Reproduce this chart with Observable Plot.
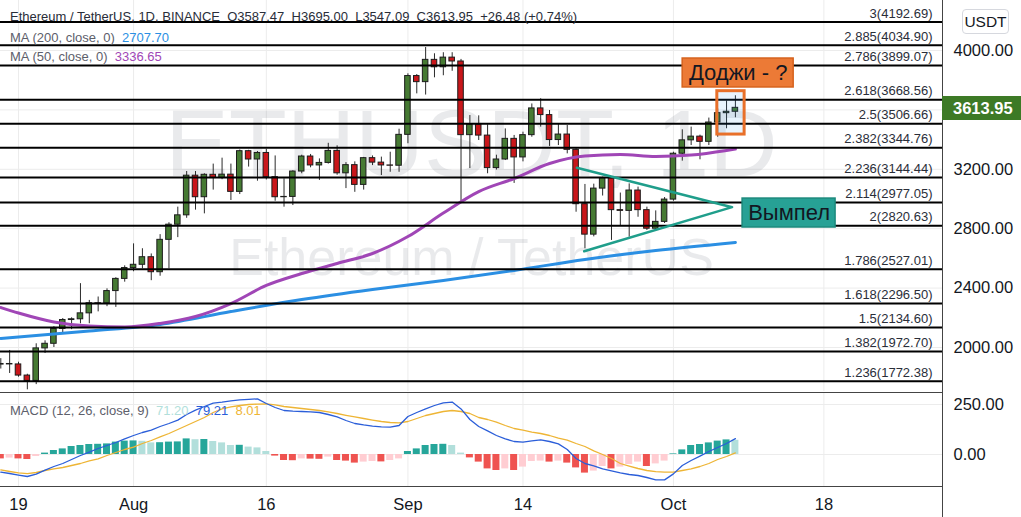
<!DOCTYPE html>
<html lang="ru">
<head>
<meta charset="utf-8">
<script src="https://cdn.jsdelivr.net/npm/d3@7"></script>
<script src="https://cdn.jsdelivr.net/npm/@observablehq/plot@0.6"></script>
<style>
html,body{margin:0;padding:0;background:#fff;}
#root{position:relative;width:1021px;height:517px;overflow:hidden;background:#fff;font-family:"Liberation Sans",Arial,sans-serif;color:#131722;}
#root svg{position:absolute;left:0;}
.ov{position:absolute;white-space:nowrap;}
</style>
</head>
<body>
<div id="root"></div>
<script>
// ---------------- DATA ----------------
const candleRows = [
 ["2021-07-17",1885,1925,1855,1889],
 ["2021-07-18",1889,1980,1825,1886],
 ["2021-07-19",1886,1901,1800,1811],
 ["2021-07-20",1811,1820,1715,1775],
 ["2021-07-21",1775,2025,1750,1994],
 ["2021-07-22",1994,2045,1960,2025],
 ["2021-07-23",2025,2140,2000,2125],
 ["2021-07-24",2125,2195,2100,2185],
 ["2021-07-25",2185,2200,2120,2190],
 ["2021-07-26",2190,2430,2160,2230],
 ["2021-07-27",2230,2317,2160,2298],
 ["2021-07-28",2298,2340,2240,2297],
 ["2021-07-29",2297,2395,2275,2380],
 ["2021-07-30",2380,2470,2270,2462],
 ["2021-07-31",2462,2550,2440,2535],
 ["2021-08-01",2535,2698,2510,2557],
 ["2021-08-02",2557,2665,2530,2608],
 ["2021-08-03",2608,2630,2450,2507],
 ["2021-08-04",2507,2760,2480,2725],
 ["2021-08-05",2725,2840,2530,2827],
 ["2021-08-06",2827,2945,2740,2890],
 ["2021-08-07",2890,3185,2870,3157],
 ["2021-08-08",3157,3185,2925,3012],
 ["2021-08-09",3012,3170,2900,3163],
 ["2021-08-10",3163,3235,3060,3141],
 ["2021-08-11",3141,3275,3130,3164],
 ["2021-08-12",3164,3235,2990,3048],
 ["2021-08-13",3048,3330,3030,3322],
 ["2021-08-14",3322,3328,3215,3266],
 ["2021-08-15",3266,3320,3120,3310],
 ["2021-08-16",3310,3335,3128,3147],
 ["2021-08-17",3147,3290,2985,3012],
 ["2021-08-18",3012,3136,2945,3014],
 ["2021-08-19",3014,3190,2956,3185],
 ["2021-08-20",3185,3295,3170,3286],
 ["2021-08-21",3286,3300,3210,3226],
 ["2021-08-22",3226,3270,3125,3243],
 ["2021-08-23",3243,3375,3235,3324],
 ["2021-08-24",3324,3358,3160,3173],
 ["2021-08-25",3173,3245,3070,3228],
 ["2021-08-26",3228,3250,3045,3095],
 ["2021-08-27",3095,3280,3060,3275],
 ["2021-08-28",3275,3290,3225,3245],
 ["2021-08-29",3245,3282,3158,3226],
 ["2021-08-30",3226,3315,3180,3224],
 ["2021-08-31",3224,3470,3180,3432],
 ["2021-09-01",3432,3843,3372,3828],
 ["2021-09-02",3828,3838,3708,3787],
 ["2021-09-03",3787,4020,3700,3937],
 ["2021-09-04",3937,3978,3816,3887],
 ["2021-09-05",3887,3985,3830,3952],
 ["2021-09-06",3952,3985,3860,3926],
 ["2021-09-07",3926,3940,2985,3430],
 ["2021-09-08",3430,3562,3205,3500],
 ["2021-09-09",3500,3560,3394,3427],
 ["2021-09-10",3427,3500,3170,3208],
 ["2021-09-11",3208,3295,3195,3266],
 ["2021-09-12",3266,3472,3259,3405],
 ["2021-09-13",3405,3428,3105,3280],
 ["2021-09-14",3280,3450,3250,3430],
 ["2021-09-15",3430,3640,3416,3610],
 ["2021-09-16",3610,3675,3484,3565],
 ["2021-09-17",3565,3596,3354,3397],
 ["2021-09-18",3397,3506,3360,3434],
 ["2021-09-19",3434,3495,3304,3331],
 ["2021-09-20",3331,3338,2911,2965],
 ["2021-09-21",2965,3098,2665,2760],
 ["2021-09-22",2760,3100,2745,3070],
 ["2021-09-23",3070,3147,3020,3140],
 ["2021-09-24",3140,3150,2721,2925],
 ["2021-09-25",2925,3040,2815,2920],
 ["2021-09-26",2920,3102,2743,3057],
 ["2021-09-27",3057,3080,2877,2925],
 ["2021-09-28",2925,2945,2788,2800],
 ["2021-09-29",2800,2920,2790,2846],
 ["2021-09-30",2846,3010,2835,2996],
 ["2021-10-01",2996,3315,2985,3305],
 ["2021-10-02",3305,3466,3255,3395],
 ["2021-10-03",3395,3484,3360,3420],
 ["2021-10-04",3420,3430,3264,3385],
 ["2021-10-05",3385,3545,3360,3515],
 ["2021-10-06",3515,3607,3416,3578],
 ["2021-10-07",3578,3660,3473,3587.47],
 ["2021-10-08",3587.47,3695,3547.09,3613.95]
];

const fibLevels = ["3","2.885","2.786","2.618","2.5","2.382","2.236","2.114","2","1.786","1.618","1.5","1.382","1.236"];
const fibPrices = [4192.69,4034.90,3899.07,3668.56,3506.66,3344.76,3144.44,2977.05,2820.63,2527.01,2296.50,2134.60,1972.70,1772.38];

const ma50Points = [
 ["2021-07-17",2269],["2021-07-19",2232],["2021-07-23",2172],["2021-07-27",2145],["2021-07-31",2138],
 ["2021-08-04",2162],["2021-08-08",2209],["2021-08-12",2296],["2021-08-16",2418],["2021-08-20",2498],
 ["2021-08-24",2566],["2021-08-28",2633],["2021-09-01",2747],["2021-09-05",2905],["2021-09-09",3050],
 ["2021-09-13",3138],["2021-09-17",3239],["2021-09-21",3289],["2021-09-25",3300],["2021-09-29",3286],
 ["2021-10-03",3296],["2021-10-07",3327],["2021-10-08",3336.65]
];
const ma200Points = [
 ["2021-07-17",2061],["2021-07-27",2111],["2021-08-04",2155],["2021-08-12",2242],["2021-08-20",2323],
 ["2021-08-28",2391],["2021-09-05",2451],["2021-09-13",2519],["2021-09-21",2593],["2021-09-29",2653],
 ["2021-10-08",2707.70]
];

// MACD pane, one value per candle (Jul 17 .. Oct 8)
const macdValues = [-88,-95,-103,-110,-98,-78,-60,-45,-25,-5,12,30,45,60,78,95,110,122,140,155,172,200,222,240,257,262,268,273,276,278,255,235,220,217,215,213,210,200,188,170,155,148,142,138,137,145,190,210,228,245,258,262,228,175,140,118,95,78,65,62,68,73,65,53,25,-20,-45,-57,-72,-82,-92,-100,-105,-115,-127,-127,-97,-55,-30,-8,15,35,55,79.21];
const signalValues = [-77,-85,-92,-96,-90,-80,-72,-65,-55,-45,-32,-22,-5,10,25,37,55,70,88,105,125,145,165,185,210,228,238,245,250,252,253,248,240,235,230,225,220,213,205,196,188,180,172,165,160,158,165,180,195,205,215,220,215,205,185,175,162,145,130,122,112,105,95,82,72,55,40,18,0,-20,-45,-58,-70,-80,-86,-88,-88,-80,-72,-60,-45,-25,-10,8.01];
const histValues = [-22,-18,-22,-25,-10,7,20,28,40,45,50,51,53,62,67,68,66,58,59,62,63,78,74,75,65,58,45,46,37,33,15,-8,-30,-31,-22,-23,-24,-13,-30,-33,-43,-38,-35,-37,-30,-22,15,28,45,50,51,45,7,-17,-38,-72,-80,-72,-80,-63,-35,-33,-38,-33,-43,-67,-93,-83,-60,-72,-63,-50,-38,-60,-47,-33,3,23,45,50,58,67,73,71.2];

const tickDates = ["2021-07-19","2021-08-01","2021-08-16","2021-09-01","2021-09-14","2021-10-01","2021-10-18"];
const tickLabels = ["19","Aug","16","Sep","14","Oct","18"];
const priceTicks = [2000,2400,2800,3200,4000];
const priceGrid = [2000,2400,2800,3200,3600,4000];
const macdTicks = [0,250];

const pennantPoints = [["2021-09-20T02:00Z",3210],["2021-10-07T15:00Z",2945],["2021-09-20T22:00Z",2648]];
const dojiFrame = {x1:"2021-10-05T23:00Z", x2:"2021-10-09T01:00Z", y1:3434, y2:3726};
const notes = [
 {text:"Доджи - ?", x1:"2021-10-02T01:00Z", x2:"2021-10-14T14:00Z", y1:3751, y2:3946, kind:"doji"},
 {text:"Вымпел",   x1:"2021-10-08T19:30Z", x2:"2021-10-19T07:40Z", y1:2808, y2:3003, kind:"pennant"}
];
const lastPrice = 3613.95;
const watermark = ["ETHUSDT, 1D","Ethereum / TetherUS"];
const headerTitle = "Ethereum / TetherUS, 1D, BINANCE";
const headerOHLC = ["O3587.47","H3695.00","L3547.09","C3613.95","+26.48 (+0.74%)"];
const maLegend = [{label:"MA (200, close, 0)", value:"2707.70"},{label:"MA (50, close, 0)", value:"3336.65"}];
const macdLegend = {label:"MACD (12, 26, close, 9)", values:["71.20","79.21","8.01"]};

// ---------------- STYLE / LAYOUT ----------------
const FONT = '"Liberation Sans", Arial, sans-serif';
const W = 1021, H = 517, AXIS_X = 942, MAIN_H = 391;
const GREEN = "#467a33", RED = "#c9161a", BLUE = "#2b8fe3", PURPLE = "#a046b6";
const MACD_BLUE = "#2b5ed9", GOLD = "#eeb535";
const TEAL = "#26a69a", TEAL_L = "#b2dfdb", RED_H = "#ef5350", PINK = "#ffcdd2";
const GRID = "#ececec";
const HOUR = 3600e3;
const xDomain = [new Date("2021-07-16T23:11:00Z"), new Date("2021-10-31T09:36:00Z")];
const mainYDomain = [1703.7, 4336.7];
const macdYDomain = [-160, 305];

const candles = candleRows.map(([d,o,h,l,c]) => ({date:new Date(d), open:o, high:h, low:l, close:c}));
const fib = fibLevels.map((lv,i) => ({level:lv, price:fibPrices[i]}));
const ma50 = ma50Points.map(([d,v]) => ({date:new Date(d), v}));
const ma200 = ma200Points.map(([d,v]) => ({date:new Date(d), v}));
const tickDateObjs = tickDates.map(d => new Date(d));
const tickLabelMap = new Map(tickDateObjs.map((d,i) => [+d, tickLabels[i]]));
const pennant = pennantPoints.map(([d,v]) => ({date:new Date(d), v}));
const doji = [{x1:new Date(dojiFrame.x1), x2:new Date(dojiFrame.x2), y1:dojiFrame.y1, y2:dojiFrame.y2}];
const noteRows = notes.map(n => ({...n, x1:new Date(n.x1), x2:new Date(n.x2)}));
const macdRows = candles.map((c,i) => ({date:c.date, macd:macdValues[i], signal:signalValues[i], hist:histValues[i], prev: i ? histValues[i-1] : 0}));
const histColor = d => d.hist >= 0 ? (d.hist >= d.prev ? TEAL : TEAL_L) : (d.hist < d.prev ? RED_H : PINK);

const bodyX1 = d => new Date(+d.date - 7.5*HOUR);
const bodyX2 = d => new Date(+d.date + 7.5*HOUR);
const noteFill = {doji:"#ec7a36", pennant:"#27a195"};
const noteStroke = {doji:"#d6621d", pennant:"#1c897c"};

const root = document.getElementById("root");

const main = Plot.plot({
  width: W, height: MAIN_H,
  marginLeft: 0, marginRight: W - AXIS_X, marginTop: 0, marginBottom: 0,
  style: {background:"transparent", color:"#131722", fontFamily:FONT, fontSize:"16.5px", overflow:"visible"},
  x: {type:"utc", domain:xDomain, axis:null},
  y: {domain:mainYDomain, axis:"right", ticks:priceTicks, tickFormat:d => d.toFixed(2), tickSize:0, tickPadding:11, label:null},
  color: {type:"identity"},
  marks: [
    Plot.ruleY(priceGrid, {stroke:GRID, strokeWidth:1}),
    Plot.ruleX(tickDateObjs, {stroke:GRID, strokeWidth:1}),
    Plot.text([watermark[0]], {text:d => d, frameAnchor:"middle", dy:-50, fontSize:95, fill:"#787b86", fillOpacity:0.16}),
    Plot.text([watermark[1]], {text:d => d, frameAnchor:"middle", dy:62, fontSize:52, fill:"#787b86", fillOpacity:0.16}),
    Plot.ruleX(candles, {x:"date", y1:"low", y2:"high", stroke:"#2b2b2b", strokeWidth:1}),
    Plot.rect(candles.filter(d => d.close >= d.open), {x1:bodyX1, x2:bodyX2, y1:"open", y2:"close", fill:GREEN, stroke:"#1c1c1c", strokeWidth:1}),
    Plot.rect(candles.filter(d => d.close < d.open), {x1:bodyX1, x2:bodyX2, y1:"open", y2:"close", fill:RED, stroke:"#1c1c1c", strokeWidth:1}),
    Plot.line(ma200, {x:"date", y:"v", stroke:BLUE, strokeWidth:3, curve:"monotone-x"}),
    Plot.line(ma50, {x:"date", y:"v", stroke:PURPLE, strokeWidth:3, curve:"monotone-x"}),
    Plot.ruleY(fib, {y:"price", stroke:"#000", strokeWidth:2}),
    Plot.text(fib, {y:"price", text:d => `${d.level}(${d.price.toFixed(2)})`, frameAnchor:"right", textAnchor:"end", dx:-10, dy:-8.5, fontSize:13, fill:"#2a2e39"}),
    Plot.line(pennant, {x:"date", y:"v", stroke:"#1f9e8b", strokeWidth:2.5}),
    Plot.rect(doji, {x1:"x1", x2:"x2", y1:"y1", y2:"y2", fill:"#2196f3", fillOpacity:0.1, stroke:"#e8702a", strokeWidth:3}),
    Plot.rect(noteRows, {x1:"x1", x2:"x2", y1:"y1", y2:"y2", fill:d => noteFill[d.kind], stroke:d => noteStroke[d.kind], strokeWidth:1.5}),
    Plot.text(noteRows, {x:d => new Date((+d.x1 + +d.x2)/2), y:d => (d.y1 + d.y2)/2, text:"text", fontSize:22, fill:"#131722"})
  ]
});
main.style.top = "0px";
root.appendChild(main);

const macd = Plot.plot({
  width: W, height: H - MAIN_H,
  marginLeft: 0, marginRight: W - AXIS_X, marginTop: 2, marginBottom: 31,
  style: {background:"transparent", color:"#131722", fontFamily:FONT, fontSize:"16.5px", overflow:"visible"},
  x: {type:"utc", domain:xDomain, ticks:tickDateObjs, tickFormat:d => tickLabelMap.get(+d), tickSize:0, tickPadding:12, label:null},
  y: {domain:macdYDomain, axis:"right", ticks:macdTicks, tickFormat:d => d.toFixed(2), tickSize:0, tickPadding:11, label:null},
  color: {type:"identity"},
  marks: [
    Plot.ruleY(macdTicks, {stroke:GRID, strokeWidth:1}),
    Plot.ruleX(tickDateObjs, {stroke:GRID, strokeWidth:1}),
    Plot.rect(macdRows, {x1:d => new Date(+d.date - 9.5*HOUR), x2:d => new Date(+d.date + 9.5*HOUR), y1:0, y2:"hist", fill:histColor}),
    Plot.line(macdRows, {x:"date", y:"signal", stroke:GOLD, strokeWidth:1.3}),
    Plot.line(macdRows, {x:"date", y:"macd", stroke:MACD_BLUE, strokeWidth:1.3})
  ]
});
macd.style.top = MAIN_H + "px";
root.appendChild(macd);

// ---------------- OVERLAYS (pane borders, legends, price tag) ----------------
function ov(html, css) {
  const el = document.createElement("div");
  el.className = "ov";
  el.innerHTML = html;
  Object.assign(el.style, css);
  root.appendChild(el);
  return el;
}
ov("", {left:"0px", top:(MAIN_H + 0.5) + "px", width:AXIS_X + "px", height:"1.5px", background:"#444"});
ov("", {left:"0px", top:"485.5px", width:AXIS_X + "px", height:"1.5px", background:"#444"});
ov("", {left:(AXIS_X - 0.5) + "px", top:"0px", width:"1.5px", height:H + "px", background:"#444"});

ov(`${headerTitle}&nbsp;&nbsp;${headerOHLC.join("&nbsp;&nbsp;")}`,
   {left:"10px", top:"10px", fontSize:"13px", lineHeight:"13px", color:"#2a2e39"});
maLegend.forEach((m, i) => {
  ov(`${m.label}&nbsp;&nbsp;<span style="color:${i === 0 ? BLUE : PURPLE}">${m.value}</span>`,
     {left:"10px", top:(31 + i*19) + "px", fontSize:"13px", lineHeight:"13px", color:"#5d606b"});
});
ov(`${macdLegend.label}&nbsp;&nbsp;<span style="color:${TEAL_L}">${macdLegend.values[0]}</span>&nbsp;&nbsp;<span style="color:${MACD_BLUE}">${macdLegend.values[1]}</span>&nbsp;&nbsp;<span style="color:${GOLD}">${macdLegend.values[2]}</span>`,
   {left:"10px", top:"404px", fontSize:"13px", lineHeight:"13px", color:"#5d606b"});

ov("USDT", {left:"962px", top:"9px", width:"45px", height:"23px", lineHeight:"23px", textAlign:"center",
  fontSize:"15.5px", color:"#131722", border:"1px solid #d6d8de", borderRadius:"4px", background:"#fff"});

const yTag = main.scale("y").apply(lastPrice);
ov(lastPrice.toFixed(2), {left:AXIS_X + "px", top:(yTag - 11) + "px", width:(W - AXIS_X) + "px", height:"24px",
  lineHeight:"24px", paddingLeft:"11px", boxSizing:"border-box", background:"#3d7a26", color:"#fff",
  fontWeight:"bold", fontSize:"16.5px"});
</script>
</body>
</html>
